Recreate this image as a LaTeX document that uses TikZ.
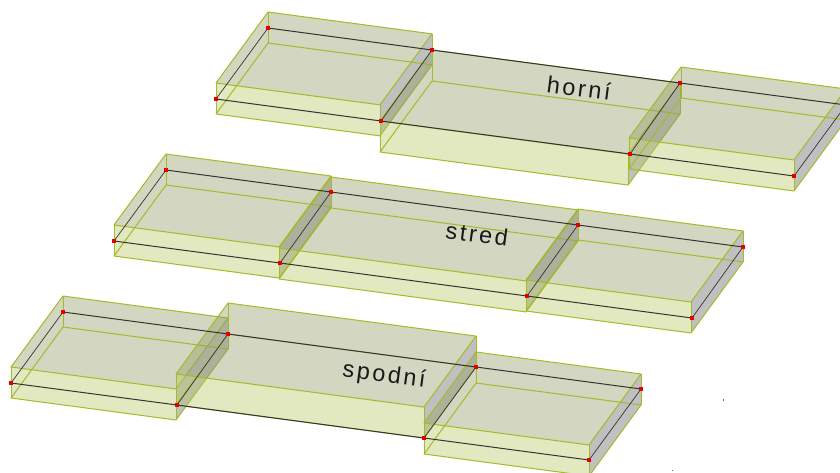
\documentclass[tikz,border=0pt]{standalone}
\usepackage{fontspec}
\newfontfamily\popis[LetterSpace=11]{Liberation Sans}
\definecolor{hrana}{RGB}{165,186,40}
\definecolor{vrch}{RGB}{145,152,97}
\definecolor{celo}{RGB}{182,197,97}
\definecolor{bok}{RGB}{192,192,192}
\tikzset{
  hranastyl/.style={draw=hrana,line width=1pt,line join=round},
  vrchstyl/.style={fill=vrch,fill opacity=0.4},
  celostyl/.style={fill=celo,fill opacity=0.4},
  bokstyl/.style={fill=bok},
  drat/.style={draw=black!80,line width=1pt},
  pricka/.style={draw=black!80,line width=0.7pt},
  uzel/.style={fill=red!90!black,shape=rectangle,inner sep=0pt,minimum size=3.6pt},
  popisek/.style={rotate=-7.5,text=black!90,font=\popis\fontsize{23.5}{26}\selectfont}
}
% jedna deska: #1,#2 zadni levy roh nahore, #3 delka
\newcommand{\deska}[3]{
  \coordinate (TBL) at (#1,#2);
  \coordinate (TBR) at ($(TBL)+(#3,0.1333*#3)$);
  \coordinate (TFL) at ($(TBL)+(-52,71)$);
  \coordinate (TFR) at ($(TBR)+(-52,71)$);
  \coordinate (BBL) at ($(TBL)+(0,31)$);
  \coordinate (BBR) at ($(TBR)+(0,31)$);
  \coordinate (BFL) at ($(TFL)+(0,31)$);
  \coordinate (BFR) at ($(TFR)+(0,31)$);
  \fill[bokstyl] (TBR) -- (TFR) -- (BFR) -- (BBR) -- cycle;
  \fill[vrchstyl] (TBL) -- (TBR) -- (TFR) -- (TFL) -- cycle;
  \fill[celostyl] (TFL) -- (TFR) -- (BFR) -- (BFL) -- cycle;
  \draw[hranastyl] (TBL) -- (TBR) -- (TFR) -- (TFL) -- cycle;
  \draw[hranastyl] (BBL) -- (BBR) -- (BFR) -- (BFL) -- cycle;
  \draw[hranastyl] (TBL) -- (BBL) (TBR) -- (BBR) (TFL) -- (BFL) (TFR) -- (BFR);
}
\usetikzlibrary{calc}
\begin{document}
\begin{tikzpicture}[x=1pt,y=-1pt]
  \path[use as bounding box,clip] (0,0) rectangle (840,472);
  % horni
  \deska{268}{12}{164}
  \deska{432}{50}{248}
  \deska{681}{67}{165}
  % stred
  \deska{166}{154}{165}
  \deska{331}{177}{247}
  \deska{578}{209}{165}
  % spodni
  \deska{63}{296}{165}
  \deska{228}{303}{248}
  \deska{476}{352}{165}

  \draw (216,99) node (h1) [uzel] {};
  \draw (381,121) node (h2) [uzel] {};
  \draw (630,154) node (h3) [uzel] {};
  \draw (794,176) node (h4) [uzel] {};
  \draw (268,28) node (h5) [uzel] {};
  \draw (432,50) node (h6) [uzel] {};
  \draw (680,83) node (h7) [uzel] {};
  \draw (846,105) node (h8) [uzel] {};
  \draw[drat] (h1) -- (h2) -- (h3) -- (h4);
  \draw[drat] (h8) -- (h7) -- (h6) -- (h5);
  \draw[pricka] (h1) -- (h5);
  \draw[pricka] (h2) -- (h6);
  \draw[pricka] (h3) -- (h7);
  \draw[pricka] (h4) -- (h8);

  \draw (114,241) node (s1) [uzel] {};
  \draw (280,263) node (s2) [uzel] {};
  \draw (527,296) node (s3) [uzel] {};
  \draw (692,318) node (s4) [uzel] {};
  \draw (166,170) node (s5) [uzel] {};
  \draw (331,192) node (s6) [uzel] {};
  \draw (578,225) node (s7) [uzel] {};
  \draw (743,247) node (s8) [uzel] {};
  \draw[drat] (s1) -- (s2) -- (s3) -- (s4);
  \draw[drat] (s8) -- (s7) -- (s6) -- (s5);
  \draw[pricka] (s1) -- (s5);
  \draw[pricka] (s2) -- (s6);
  \draw[pricka] (s3) -- (s7);
  \draw[pricka] (s4) -- (s8);

  \draw (11,383) node (d1) [uzel] {};
  \draw (177,405) node (d2) [uzel] {};
  \draw (424,438) node (d3) [uzel] {};
  \draw (589,460) node (d4) [uzel] {};
  \draw (63,312) node (d5) [uzel] {};
  \draw (228,334) node (d6) [uzel] {};
  \draw (476,367) node (d7) [uzel] {};
  \draw (641,389) node (d8) [uzel] {};
  \draw[drat] (d1) -- (d2) -- (d3) -- (d4);
  \draw[drat] (d8) -- (d7) -- (d6) -- (d5);
  \draw[pricka] (d1) -- (d5);
  \draw[pricka] (d2) -- (d6);
  \draw[pricka] (d3) -- (d7);
  \draw[pricka] (d4) -- (d8);

  \node (horni) [popisek] at (579,88) {horní};
  \node (stred) [popisek] at (477,234) {stred};
  \node (spodni) [popisek] at (384,376) {spodní};

  % dve tecky vpravo dole
  \fill[black!60] (723,399) rectangle (724,400.5);
  \fill[black!60] (671.5,469.5) rectangle (672.5,471);
\end{tikzpicture}
\end{document}
